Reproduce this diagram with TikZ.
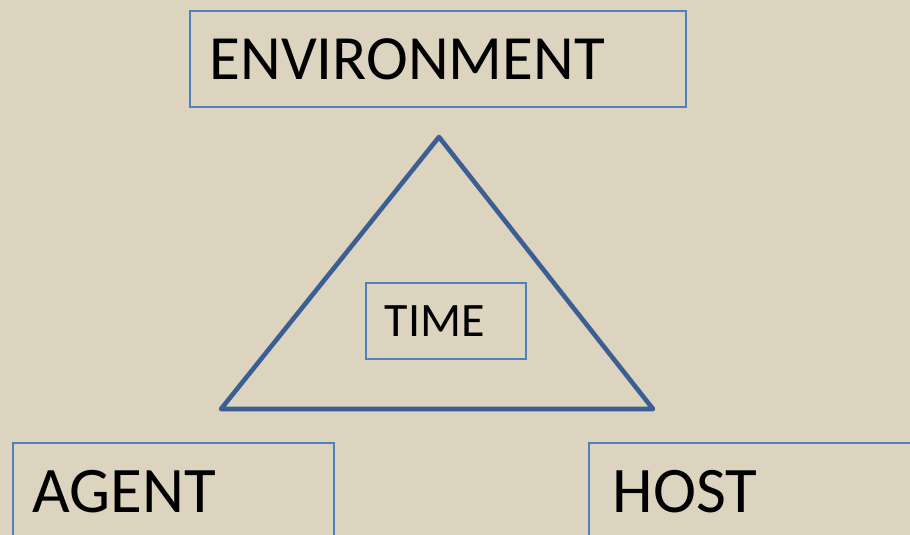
\documentclass[tikz,border=0pt]{standalone}
\usepackage{fontspec}
\setmainfont{Carlito}
\definecolor{canvas}{HTML}{DCD4BF}
\definecolor{boxblue}{HTML}{4F81BD}
\definecolor{triblue}{HTML}{3B5E93}
\begin{document}
\begin{tikzpicture}[x=1bp,y=-1bp,
  labelbox/.style={draw=boxblue, line width=1.6bp, rectangle, anchor=north west,
    align=left, inner xsep=0bp, inner ysep=0bp, text=black},
]
\fill[canvas] (0,0) rectangle (910,535);
\useasboundingbox (0,0) rectangle (910,535);
\node[labelbox, minimum width=496bp, minimum height=96bp, text width=496bp,
  font=\fontsize{63bp}{70bp}\selectfont] (env) at (189,10) {\hspace*{20bp}ENVIRONMENT};
\node[labelbox, minimum width=160bp, minimum height=76bp, text width=160bp,
  font=\fontsize{48bp}{56bp}\selectfont] (time) at (365,282) {\hspace*{19bp}TIME};
\node[labelbox, minimum width=321bp, minimum height=98bp, text width=321bp,
  font=\fontsize{65bp}{72bp}\selectfont] (agent) at (12,442) {\hspace*{20bp}AGENT};
\node[labelbox, minimum width=340bp, minimum height=98bp, text width=340bp,
  font=\fontsize{65bp}{72bp}\selectfont] (host) at (588,442) {\hspace*{24bp}HOST};
\coordinate (apex) at (439,137);
\coordinate (bl) at (221,409);
\coordinate (br) at (653,409);
\draw[triblue, line width=4.6bp, line join=round] (apex) -- (br) -- (bl) -- cycle;
\end{tikzpicture}
\end{document}
